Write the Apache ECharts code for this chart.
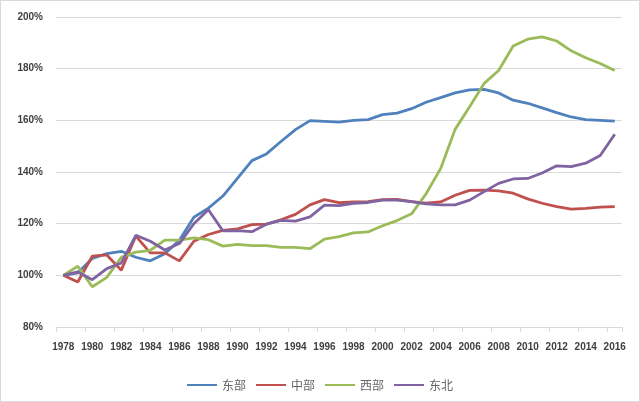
<!DOCTYPE html>
<html>
<head>
<meta charset="utf-8">
<script src="https://cdn.jsdelivr.net/npm/echarts@6/dist/echarts.min.js"></script>
<style>
html,body{margin:0;padding:0;background:#fff;}
#wrap{position:relative;width:640px;height:402px;}
#chart{position:absolute;left:0;top:0;width:640px;height:402px;}
#frame{position:absolute;left:0;top:0;width:640px;height:402px;box-sizing:border-box;border:1px solid #d9d9d9;pointer-events:none;}
</style>
</head>
<body>
<div id="wrap"><div id="chart"></div><div id="frame"></div></div>
<script>
var years = [];
for (var y = 1978; y <= 2016; y++) years.push(String(y));

var seriesNames = ['东部', '中部', '西部', '东北'];

var east = [100, 101, 106.5, 108.4, 109.3, 107, 105.6, 108.4, 113.6, 122.5, 126, 130.7, 137.5, 144.4, 147, 151.8, 156.4, 159.9, 159.6, 159.3, 160, 160.3, 162.2, 162.8, 164.5, 167, 168.8, 170.6, 171.8, 172, 170.6, 167.8, 166.6, 164.8, 163, 161.3, 160.3, 160, 159.7];
var central = [100, 97.4, 107.4, 107.9, 102, 115.2, 108.7, 108.7, 105.6, 113.2, 115.8, 117.4, 118, 119.6, 119.8, 121.5, 123.6, 127.3, 129.3, 128.1, 128.4, 128.5, 129.3, 129.4, 128.5, 127.9, 128.4, 131, 132.9, 133, 132.7, 131.8, 129.6, 127.9, 126.6, 125.6, 125.9, 126.4, 126.6];
var west = [100, 103.5, 95.6, 99.2, 107, 109, 109.7, 113.6, 113.6, 114.5, 113.8, 111.3, 112, 111.5, 111.5, 110.8, 110.8, 110.3, 114, 115, 116.4, 116.8, 119.2, 121.2, 123.8, 131.6, 141.3, 156.5, 165.3, 174.3, 179.3, 188.8, 191.4, 192.3, 190.7, 186.9, 184.2, 182, 179.3];
var northeast = [100, 101.3, 98.3, 102.6, 104.8, 115.5, 113.2, 109.8, 112.3, 120, 125.4, 117.2, 117.3, 116.9, 119.8, 121.3, 121, 122.6, 127.2, 127, 127.9, 128.2, 129.1, 129.1, 128.5, 127.7, 127.3, 127.3, 129.1, 132.4, 135.6, 137.3, 137.5, 139.6, 142.4, 142.1, 143.4, 146.4, 154.6];

var yMin = 80, yMax = 200, yStep = 20;
var colors = ['#4F81BD', '#C0504D', '#9BBB59', '#8064A2'];
var values = [east, central, west, northeast];

var series = seriesNames.map(function (n, i) {
  return {
    name: n,
    type: 'line',
    data: values[i],
    symbol: 'none',
    showSymbol: false,
    smooth: false,
    lineStyle: { width: 2.8, color: colors[i] },
    itemStyle: { color: colors[i] }
  };
});

var chart = echarts.init(document.getElementById('chart'), null, { renderer: 'canvas' });
chart.setOption({
  animation: false,
  backgroundColor: '#ffffff',
  grid: { left: 56, right: 18, top: 17, bottom: 75, containLabel: false },
  legend: {
    data: seriesNames,
    icon: 'rect',
    top: 374,
    left: 'center',
    itemWidth: 30,
    itemHeight: 2,
    itemGap: 10,
    textStyle: { color: '#666666', fontSize: 12, fontFamily: 'Noto Sans CJK SC' }
  },
  xAxis: {
    type: 'category',
    data: years,
    boundaryGap: true,
    axisLine: { lineStyle: { color: '#d9d9d9', width: 1 } },
    axisTick: { show: true, interval: 1, length: 5, lineStyle: { color: '#d9d9d9' } },
    axisLabel: { interval: 1, margin: 15, color: '#404040', fontSize: 10, fontWeight: 'bold', fontFamily: 'Liberation Sans' },
    splitLine: { show: false }
  },
  yAxis: {
    type: 'value',
    min: yMin,
    max: yMax,
    interval: yStep,
    axisLine: { show: false },
    axisTick: { show: false },
    axisLabel: { formatter: '{value}%', margin: 13, color: '#404040', fontSize: 10, fontWeight: 'bold', fontFamily: 'Liberation Sans' },
    splitLine: { lineStyle: { color: '#d9d9d9', width: 1 } }
  },
  series: series
});
</script>
</body>
</html>
